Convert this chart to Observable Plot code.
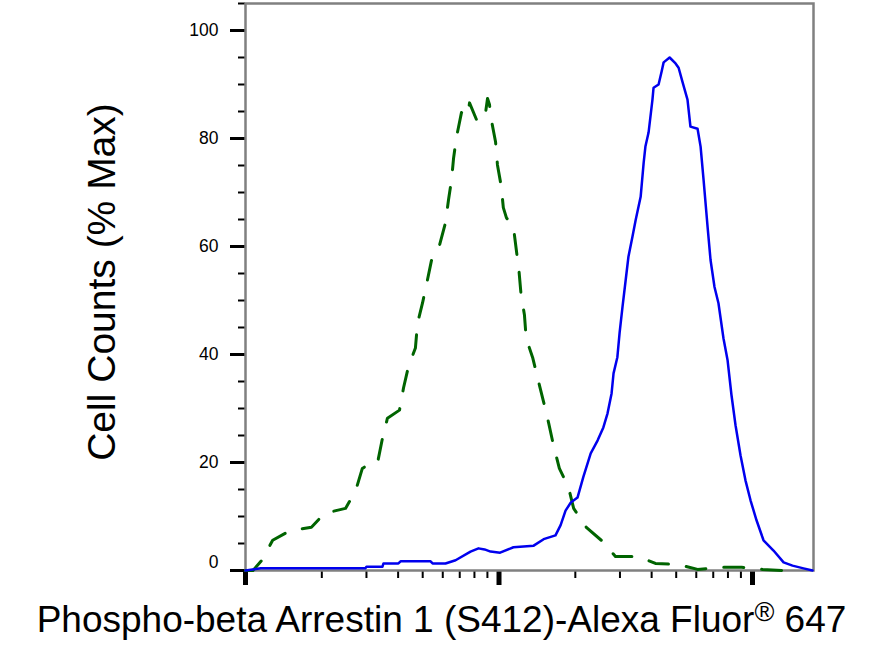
<!DOCTYPE html>
<html><head><meta charset="utf-8">
<script src="https://cdn.jsdelivr.net/npm/d3@7"></script>
<script src="https://cdn.jsdelivr.net/npm/@observablehq/plot@0.6"></script>
<style>body{margin:0;background:#fff;}</style>
</head><body><div id="chart"></div>
<script>
// Isotype / control (green dashed) histogram
const greenX = [10, 10.7, 11.6, 12.8, 15.0, 18.2, 20.5, 24.8, 27.2, 28.9, 31.1, 33.2, 34.7, 36.3, 40.5, 42.0, 43.9, 46.8, 47.7, 49.9, 52.2, 54.2, 58.3, 61.5, 63.2, 65.0, 66.2, 68.0, 71.1, 73.1, 75.8, 76.5, 81.5, 87.7, 90.1, 91.7, 93.4, 96.9, 98.6, 102, 104, 107, 114, 117, 120, 122, 126, 128, 136, 143, 150, 157, 164, 173, 188, 197, 221, 256, 288, 355, 414, 511, 607, 748, 905, 1095, 1326];
const greenY = [0, 0, 1.9, 5.6, 7.4, 8.0, 10.6, 11.5, 14.8, 18.9, 19.9, 20.0, 24.5, 28.2, 29.7, 33.8, 37.7, 41.2, 45.8, 49.5, 53.8, 57.5, 60.3, 64.4, 68.6, 72.4, 76.4, 80.3, 84.8, 84.0, 85.3, 86.6, 83.5, 83.5, 87.4, 86.3, 83.3, 79.4, 75.1, 71.2, 67.2, 65.3, 63.6, 59.4, 55.3, 51.4, 47.3, 43.0, 39.3, 35.1, 31.2, 27.3, 23.2, 18.9, 15.4, 11.5, 8.0, 5.4, 2.6, 2.6, 1.3, 1.1, 0.2, 0.6, 0.6, 0.2, 0];
// Stained sample (blue solid) histogram
const blueX = [10, 11.5, 29.7, 30.0, 34.7, 35.0, 40.1, 40.9, 53.7, 54.7, 61.5, 67.4, 77.2, 83.0, 87.7, 92.6, 101, 114, 137, 150, 167, 175, 183, 192, 204, 215, 230, 245, 258, 268, 278, 283, 293, 299, 307, 316, 324, 336, 346, 362, 372, 378, 389, 403, 407, 426, 438, 446, 471, 497, 511, 530, 554, 569, 607, 624, 641, 665, 683, 708, 734, 768, 797, 826, 857, 897, 938, 982, 1037, 1105, 1210, 1326, 1438, 1589, 1725];
const blueY = [0, 0.4, 0.4, 0.7, 0.7, 1.3, 1.3, 1.7, 1.7, 1.3, 1.3, 1.9, 3.5, 4.1, 3.9, 3.5, 3.3, 4.3, 4.6, 5.8, 6.5, 8.4, 11.1, 12.6, 13.5, 17.3, 21.7, 24.1, 26.5, 29.1, 32.8, 36.5, 39.5, 44.0, 48.8, 53.8, 58.1, 61.8, 64.9, 69.2, 75.5, 78.5, 81.1, 87.2, 89.4, 90.0, 92.4, 94.1, 95.0, 93.9, 93.1, 90.4, 87.2, 82.2, 81.8, 78.5, 72.4, 63.6, 57.5, 52.5, 49.5, 43.0, 39.0, 32.5, 26.9, 21.3, 16.7, 13.0, 9.3, 5.6, 3.7, 1.5, 0.9, 0.4, 0];

const yMajorTicks = [0, 20, 40, 60, 80, 100];
const yMinorTicks = [5, 10, 15, 25, 30, 35, 45, 50, 55, 65, 70, 75, 85, 90, 95, 105];
const xMajorTicks = [10, 100, 1000];
const xMinorTicks = [20, 30, 40, 50, 60, 70, 80, 90, 200, 300, 400, 500, 600, 700, 800, 900];
const xDomain = [10, 1740];
const yDomain = [0, 105];
const xLabelMain = "Phospho-beta Arrestin 1 (S412)-Alexa Fluor";
const xLabelMark = "®";
const xLabelEnd = " 647";
const yLabel = "Cell Counts (% Max)";

const green = greenX.map((x, i) => ({x, y: greenY[i]}));
const blue = blueX.map((x, i) => ({x, y: blueY[i]}));

const chart = Plot.plot({
  width: 882, height: 652,
  marginLeft: 245, marginRight: 69, marginTop: 3, marginBottom: 82,
  style: {fontFamily: "'Liberation Sans', Arial, sans-serif", background: "white", color: "black"},
  x: {type: "log", domain: xDomain},
  y: {domain: yDomain},
  marks: [
    Plot.axisX({ticks: xMinorTicks, tickSize: 8, strokeWidth: 2, fill: "none", label: null}),
    Plot.axisX({ticks: xMajorTicks, tickSize: 15, strokeWidth: 5, fill: "none", label: null}),
    Plot.axisY({ticks: yMinorTicks, tickSize: 7, strokeWidth: 2, fill: "none", label: null}),
    Plot.axisY({ticks: yMajorTicks, tickSize: 15, strokeWidth: 3, fill: "none", label: null}),
    Plot.axisY({ticks: yMajorTicks.filter(d => d > 0), tickSize: 0, tickPadding: 27, fontSize: 17.5, label: null}),
    Plot.axisY({ticks: [0], tickSize: 0, tickPadding: 27, dy: -8, fontSize: 17.5, label: null}),
    Plot.frame({stroke: "#808080", strokeWidth: 2.5}),
    Plot.line(green, {x: "x", y: "y", stroke: "#006400", strokeWidth: 3, strokeDasharray: "20,18"}),
    Plot.line(blue, {x: "x", y: "y", stroke: "#0000ee", strokeWidth: 2.5}),
    Plot.text([yLabel], {text: d => d, frameAnchor: "left", textAnchor: "middle", lineAnchor: "middle", dx: -143, dy: -5, rotate: -90, fontSize: 39, fill: "black"}),
    Plot.text([xLabelMain], {text: d => d, frameAnchor: "bottom", textAnchor: "middle", lineAnchor: "middle", dx: -88, dy: 50, fontSize: 37, fill: "black"})
  ]
});
document.getElementById("chart").appendChild(chart);

// add the superscript ® and the trailing number to the x label as tspans
const xt = d3.select(chart).selectAll("text").filter(function() { return this.textContent === xLabelMain; });
xt.text(null);
xt.append("tspan").text(xLabelMain);
xt.append("tspan").attr("font-size", 27).attr("dy", "-0.42em").text(xLabelMark);
xt.append("tspan").attr("font-size", 37).attr("dy", "0.307em").text(xLabelEnd);
</script>
</body></html>
